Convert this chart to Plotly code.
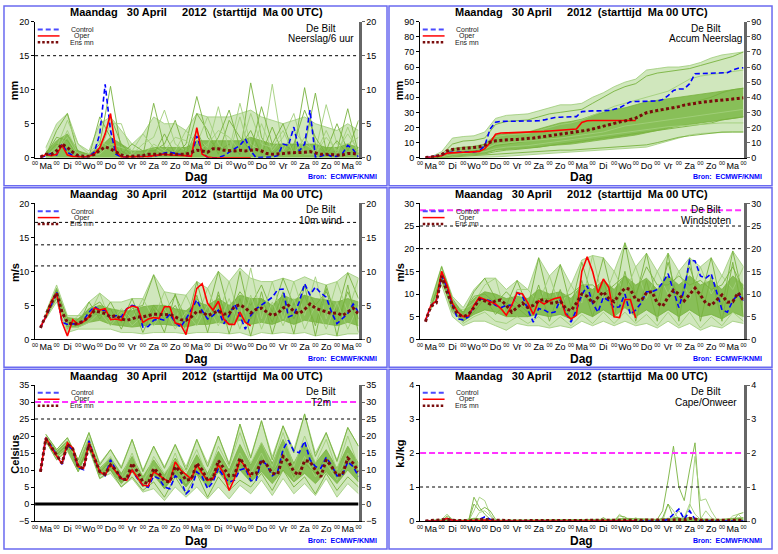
import plotly.graph_objects as go

W, H = 778, 554
FONT = 'Liberation Sans, Arial, Helvetica, sans-serif'

# time axis: hours after Ma 30 April 00 UTC
hours6 = list(range(6, 361, 6))
hours12 = list(range(12, 361, 12))
hours_oper = hours6[:40]

day_names = ['Ma', 'Di', 'Wo', 'Do', 'Vr', 'Za', 'Zo', 'Ma', 'Di', 'Wo', 'Do', 'Vr', 'Za', 'Zo', 'Ma']

# ---------------- Neerslag / 6 uur (mm) ----------------
precip_control = [0.0, 0.3, 0.6, 0.4, 2.0, 0.8, 0.3, 0.2, 0.1, 0.2, 0.8, 3.5,
                  10.8, 4.0, 0.5, 0.1, 0.1, 0.1, 0.1, 0.1, 0.1, 0.2, 0.4, 0.7,
                  0.8, 0.6, 0.4, 0.3, 0.2, 3.2, 0.8, 0.0, 0.0, 0.0, 0.3, 0.8,
                  1.2, 1.8, 2.8, 1.0, 0.0, 0.0, 0.0, 0.1, 0.3, 2.0, 1.8, 4.5,
                  1.0, 2.0, 7.0, 0.1, 0.2, 0.5, 0.2, 0.2, 0.6, 1.8, 1.2, 0.1]
precip_oper = [0.0, 0.5, 0.3, 0.5, 1.8, 0.4, 0.2, 0.1, 0.1, 0.2, 0.5, 1.5,
               3.5, 6.5, 1.0, 0.1, 0.1, 0.1, 0.1, 0.1, 0.2, 0.3, 0.4, 0.5,
               0.4, 0.4, 0.3, 0.3, 0.2, 4.4, 0.5, 0.1, 0.0, 0.0, 0.0, 0.0,
               0.0, 0.0, 0.0, 0.0]
precip_mean = [0.1, 0.5, 0.5, 1.0, 2.0, 1.5, 0.8, 0.3, 0.2, 0.2, 0.5, 1.0,
               1.6, 1.3, 0.8, 0.4, 0.2, 0.2, 0.2, 0.3, 0.5, 0.5, 0.4, 0.4,
               0.5, 0.5, 0.4, 0.5, 0.8, 1.1, 1.0, 0.8, 1.3, 1.3, 1.1, 1.0,
               1.0, 1.1, 1.0, 1.1, 1.2, 1.0, 0.6, 0.5, 0.5, 0.6, 0.7, 0.7,
               0.8, 0.8, 0.9, 0.7, 0.5, 0.5, 0.4, 0.4, 0.4, 0.6, 0.6, 0.5]
precip_env_hi = [1.5, 5.0, 6.5, 2.0, 1.0, 5.0, 6.0, 4.0, 2.0, 3.5, 6.0, 5.0, 5.0, 4.0, 6.5,
                 6.0, 6.0, 6.0, 6.5, 7.0, 6.0, 5.5, 5.0, 5.5, 6.0, 5.0, 4.5, 4.0, 5.0, 4.0]
precip_core_hi = [0.8, 2.5, 3.5, 1.0, 0.5, 1.5, 3.0, 2.0, 1.0, 1.0, 1.5, 1.5, 1.5, 1.5, 2.5,
                  2.5, 2.5, 2.5, 2.5, 3.0, 2.5, 2.0, 2.0, 2.0, 2.0, 2.0, 1.5, 1.5, 2.0, 1.5]
precip_members = [
    [0.3, 4.0, 6.5, 0.5, 0.2, 2.0, 10.5, 1.0, 0.1, 0.3, 8.0, 1.5, 0.5, 2.0, 9.0,
     3.0, 1.0, 2.0, 0.5, 11.0, 3.0, 0.5, 2.0, 1.0, 10.3, 2.0, 0.5, 1.0, 7.2, 0.5],
    [0.2, 1.5, 5.5, 2.0, 0.5, 0.8, 5.0, 5.0, 0.5, 2.0, 3.0, 7.0, 2.0, 1.0, 3.0,
     1.5, 7.5, 1.0, 8.0, 2.0, 1.0, 10.8, 1.0, 4.0, 2.0, 1.0, 7.8, 2.0, 2.0, 3.0],
    [0.5, 3.0, 2.5, 0.3, 0.1, 6.0, 3.0, 0.5, 2.0, 1.0, 1.0, 2.0, 5.5, 0.5, 6.5,
     4.0, 0.5, 5.5, 3.0, 1.0, 7.5, 2.0, 5.0, 0.5, 1.5, 9.5, 1.0, 5.0, 1.0, 5.5],
    [0.1, 0.8, 4.0, 0.5, 0.2, 0.5, 2.0, 1.5, 1.0, 3.5, 1.5, 0.5, 1.0, 4.0, 2.0,
     6.0, 2.0, 0.5, 6.0, 0.5, 5.0, 1.0, 3.0, 6.5, 0.5, 0.5, 3.0, 1.0, 3.5, 1.0],
    [0.4, 2.0, 1.0, 1.0, 0.3, 1.0, 6.0, 2.0, 0.2, 0.5, 0.5, 3.5, 0.5, 0.5, 4.0,
     0.5, 3.0, 7.0, 1.5, 4.0, 0.5, 4.5, 0.5, 2.0, 7.0, 3.0, 0.5, 2.5, 0.5, 1.5],
    [0.2, 1.0, 3.0, 0.2, 0.5, 2.5, 1.5, 0.3, 0.5, 0.2, 2.0, 1.0, 3.0, 2.5, 1.0,
     2.0, 4.0, 3.0, 1.0, 6.5, 2.0, 1.5, 4.0, 0.5, 3.0, 0.5, 4.0, 0.5, 4.5, 0.5],
]

# ---------------- Accum Neerslag (mm) ----------------
accum_control = [0.0, 0.3, 1.0, 1.5, 3.5, 3.6, 3.7, 3.7, 3.7, 3.8, 4.5, 8.0,
                 19.0, 23.5, 24.0, 24.0, 24.0, 24.0, 24.1, 24.1, 24.2, 24.4, 25.0, 25.8,
                 26.6, 26.8, 26.9, 27.0, 27.2, 30.5, 31.0, 31.0, 31.0, 31.0, 31.3, 32.0,
                 33.0, 35.0, 37.0, 37.2, 37.2, 37.2, 37.2, 37.5, 38.5, 41.0, 44.5, 45.5,
                 45.5, 49.0, 55.5, 55.7, 55.8, 55.9, 56.0, 56.0, 56.3, 58.0, 59.2, 59.5]
accum_oper = [0.0, 0.4, 0.8, 1.3, 3.0, 3.3, 3.5, 3.6, 3.7, 3.8, 4.2, 6.0,
              10.0, 15.5, 16.3, 16.4, 16.5, 16.5, 16.6, 16.7, 16.9, 17.1, 17.4, 17.7,
              18.0, 18.3, 18.5, 18.7, 19.0, 23.3, 24.5, 24.6, 24.6, 24.6, 24.6, 24.6,
              24.6, 24.6, 24.6, 24.6]
accum_mean = [0.1, 0.4, 0.9, 2.0, 4.5, 5.5, 6.0, 6.2, 6.4, 6.7, 7.2, 8.2,
              10.3, 11.2, 11.6, 11.8, 12.0, 12.1, 12.3, 12.5, 13.0, 13.5, 14.0, 14.5,
              15.0, 15.4, 15.8, 16.3, 16.9, 17.5, 18.2, 19.0, 20.0, 21.0, 22.0, 22.8,
              23.6, 24.3, 25.0, 26.2, 28.0, 29.8, 30.6, 31.2, 31.8, 32.4, 33.0, 33.8,
              34.8, 35.5, 36.0, 36.5, 37.0, 37.3, 37.7, 38.0, 38.4, 38.8, 39.2, 39.6]
accum_env_lo = [0, 0, 0, 0, 0.2, 0.3, 0.5, 1, 1.5, 2, 2.5, 3, 3, 3.5, 4,
                4.5, 5, 5.5, 6, 6.5, 7, 9, 11, 13, 15, 16, 16.5, 17, 17, 17]
accum_env_hi = [0.5, 4, 13, 14, 14.5, 17, 26, 28, 28.5, 29, 31, 33, 35, 35, 36,
                40, 43, 47, 50, 52, 58, 59, 60, 60, 61, 63, 66, 68, 69, 70]
accum_core_lo = [0, 0.3, 1.5, 2, 2.5, 3, 5, 5.5, 6, 6.5, 7, 8, 8.5, 9, 10,
                 11, 12, 13, 14, 15, 16.5, 18, 19, 21, 22, 23, 24, 25, 26, 27]
accum_core_hi = [0.2, 1.5, 6, 7, 7.5, 9, 15, 16, 16.5, 17, 19, 21, 23, 24, 25.5,
                 28, 30, 32, 33, 35, 37, 38, 39, 40, 41, 42, 43, 44, 45, 46]
accum_members = [
    [0.2, 2, 9, 11, 11.5, 13, 22, 24, 24.5, 25, 27, 29, 30, 31, 32,
     36, 40, 44, 47, 49, 54, 56, 57, 58, 59, 61, 63, 65, 67, 70],
    [0.1, 1, 5, 6, 6.5, 8, 14, 15, 15.5, 16, 18, 20, 22, 23, 25,
     28, 31, 34, 36, 38, 40, 42, 44, 48, 52, 54, 55, 56, 57, 58],
    [0, 0.5, 3, 4, 4.5, 5, 8, 9, 10, 11, 12, 13, 14, 15, 17,
     19, 21, 23, 25, 27, 29, 30, 32, 34, 36, 38, 40, 43, 45, 46],
    [0.1, 1, 4, 5, 5.5, 6, 9, 10, 10.5, 11, 12, 12.5, 13, 14, 15,
     16, 17, 19, 21, 22, 23, 24, 25, 26, 27, 28, 29, 30, 31, 32],
    [0, 0.3, 1, 1.5, 2, 2.5, 4, 5, 5.5, 6, 7, 8, 9, 10, 11,
     12, 13, 14, 15, 16, 17, 18, 19, 20, 21, 22, 23, 25, 26, 27],
    [0, 0.5, 2, 3, 3.5, 4, 6, 7, 7.5, 8, 9, 10, 11, 12, 13,
     14, 15, 16, 17, 18, 19, 20, 20.5, 21, 21.5, 22, 22.5, 23, 23, 23],
    [0, 0, 0.5, 1, 1, 1.5, 2, 2.5, 3, 3.5, 4, 4.5, 5, 5, 5.5,
     6, 6.5, 7, 7.5, 8, 8.5, 10, 12, 13.5, 14.5, 15.5, 16.5, 17, 17, 17],
]

# ---------------- 10m wind (m/s) ----------------
wind_control = [1.7, 3.3, 5.0, 7.0, 2.5, 2.2, 2.3, 2.2, 2.8, 4.0, 4.8, 4.3,
                4.3, 3.0, 3.5, 3.3, 4.5, 5.0, 4.8, 1.8, 1.9, 2.8, 3.0, 2.8,
                3.7, 2.5, 1.8, 3.0, 4.5, 5.8, 4.2, 3.0, 3.5, 4.3, 2.3, 3.5,
                5.2, 3.5, 1.5, 3.5, 4.5, 5.0, 5.6, 6.2, 7.3, 7.4, 3.3, 3.6,
                5.5, 8.2, 6.5, 7.7, 6.8, 6.2, 4.0, 2.3, 3.0, 3.8, 5.2, 4.0]
wind_oper = [1.8, 3.3, 5.5, 6.8, 2.5, 0.5, 2.9, 2.2, 2.6, 3.3, 4.6, 4.3,
             4.5, 2.9, 3.0, 2.8, 4.5, 4.9, 4.7, 2.5, 3.0, 3.2, 3.1, 4.8,
             4.8, 2.4, 2.2, 0.7, 4.0, 7.5, 8.2, 5.3, 4.3, 5.6, 3.0, 2.2,
             2.2, 4.0, 2.5, 2.0]
wind_mean = [1.7, 3.5, 5.3, 6.8, 4.0, 2.5, 2.2, 2.3, 2.7, 3.3, 4.2, 4.0,
             3.8, 3.3, 3.5, 3.0, 2.8, 3.0, 3.3, 3.3, 3.5, 3.7, 3.7, 3.6,
             3.7, 3.3, 2.9, 2.8, 3.3, 4.1, 4.0, 3.5, 3.8, 4.2, 3.7, 3.8,
             4.8, 5.1, 4.6, 3.9, 4.4, 4.6, 4.0, 3.5, 3.8, 4.6, 5.0, 4.1,
             3.8, 4.4, 5.2, 4.6, 4.3, 4.1, 3.8, 3.9, 3.5, 4.0, 4.6, 3.7]
wind_env_lo = [3.0, 5.5, 1.0, 1.5, 1.5, 1.5, 1.5, 1.0, 1.0, 0.8, 1.0, 1.0, 1.0, 0.8, 1.0,
               1.0, 1.0, 0.8, 1.0, 0.5, 1.0, 0.8, 1.0, 0.8, 1.0, 0.5, 0.8, 0.5, 0.8, 0.8]
wind_env_hi = [4.0, 8.0, 3.5, 3.5, 5.5, 6.8, 5.5, 5.5, 6.0, 6.0, 9.5, 7.0, 6.7, 6.5, 8.5,
               7.5, 10.0, 8.5, 10.5, 9.0, 8.5, 8.5, 9.0, 8.5, 9.2, 8.5, 8.0, 8.5, 9.8, 9.0]
wind_core_lo = [3.2, 6.0, 1.8, 1.8, 2.5, 2.8, 2.2, 2.0, 1.8, 2.0, 2.2, 2.2, 2.0, 1.8, 2.2,
                2.2, 2.5, 2.2, 2.8, 2.2, 2.5, 2.2, 2.8, 2.2, 2.8, 2.5, 2.2, 2.0, 2.5, 2.0]
wind_core_hi = [4.0, 7.3, 3.2, 3.0, 4.5, 5.0, 4.5, 4.2, 4.2, 4.8, 5.0, 5.0, 4.5, 4.2, 5.5,
                5.0, 6.0, 5.0, 6.5, 6.0, 6.0, 5.0, 6.5, 5.8, 6.5, 6.0, 5.8, 5.5, 6.0, 5.5]
wind_members = [
    [3.5, 7.5, 2.5, 2.5, 4.5, 5.5, 3.5, 3.0, 4.5, 5.0, 9.5, 4.0, 6.5, 3.0, 6.0,
     4.0, 10.0, 4.0, 7.0, 5.0, 8.0, 4.0, 9.0, 5.0, 8.0, 5.0, 7.0, 4.0, 9.8, 6.0],
    [3.3, 6.5, 2.0, 3.5, 3.5, 6.8, 2.5, 4.5, 3.0, 6.0, 3.0, 7.0, 3.0, 6.5, 3.0,
     7.5, 3.5, 8.5, 3.0, 10.5, 3.0, 8.5, 3.0, 8.5, 3.5, 9.2, 3.0, 8.5, 4.0, 9.0],
    [3.6, 7.0, 3.0, 2.0, 5.5, 3.0, 5.5, 2.5, 6.0, 2.0, 5.0, 3.0, 5.0, 2.0, 8.5,
     2.5, 6.5, 2.5, 10.0, 3.0, 6.0, 2.5, 7.0, 3.0, 6.5, 2.0, 8.0, 2.5, 7.0, 3.0],
    [3.4, 6.8, 2.8, 1.8, 2.5, 4.0, 2.0, 4.0, 2.0, 3.5, 2.0, 4.5, 1.5, 4.0, 2.0,
     5.0, 2.0, 6.0, 1.5, 6.5, 1.5, 5.5, 2.0, 6.0, 1.5, 5.0, 1.5, 5.5, 1.5, 5.0],
    [3.5, 7.2, 1.5, 3.0, 4.0, 3.5, 4.5, 1.5, 5.0, 1.0, 4.5, 1.0, 6.7, 1.0, 6.5,
     1.0, 7.0, 0.8, 6.0, 0.5, 7.0, 0.8, 6.0, 0.8, 8.0, 0.5, 7.5, 0.5, 8.0, 1.0],
]

# ---------------- Windstoten (m/s) ----------------
gust_control = [4.0, 7.5, 8.5, 14.0, 11.5, 7.5, 4.5, 4.3, 5.0, 7.5, 9.0, 8.8,
                8.5, 7.5, 7.0, 7.5, 7.5, 10.3, 9.5, 6.5, 3.8, 6.8, 6.5, 5.8,
                6.0, 8.7, 6.0, 3.8, 6.5, 9.8, 11.8, 8.0, 6.0, 9.3, 8.5, 7.0,
                7.2, 10.0, 5.5, 6.5, 8.0, 10.5, 10.5, 11.0, 12.5, 14.5, 11.0, 7.0,
                11.0, 17.5, 17.3, 14.0, 13.5, 14.5, 10.5, 6.5, 6.0, 8.5, 10.0, 8.5]
gust_oper = [4.2, 7.5, 8.5, 15.0, 12.0, 8.0, 6.0, 5.0, 5.2, 7.5, 9.3, 8.8,
             8.3, 7.8, 6.8, 5.3, 7.5, 10.3, 10.0, 8.0, 5.5, 8.5, 7.8, 8.5,
             9.0, 9.3, 5.5, 4.5, 5.3, 15.0, 18.2, 15.0, 10.3, 13.3, 11.5, 5.0,
             4.8, 8.8, 8.8, 4.7]
gust_mean = [3.9, 7.3, 8.0, 14.0, 10.5, 7.5, 5.5, 5.0, 5.5, 7.0, 8.8, 8.5,
             7.8, 8.5, 8.7, 7.5, 6.0, 7.0, 8.0, 7.0, 7.5, 8.5, 8.8, 8.0,
             8.0, 8.5, 6.8, 6.3, 8.0, 10.0, 9.5, 8.0, 9.3, 10.5, 9.0, 8.3,
             10.0, 11.3, 11.0, 8.8, 8.5, 10.3, 10.5, 8.0, 7.3, 9.3, 10.8, 10.0,
             8.5, 9.8, 11.3, 9.8, 8.0, 7.5, 8.7, 9.8, 8.2, 8.3, 10.3, 8.5]
gust_env_lo = [6.5, 12.0, 5.0, 3.0, 4.0, 4.0, 3.0, 2.0, 3.5, 3.0, 3.0, 2.5, 3.0, 2.5, 4.0,
               3.0, 4.0, 3.0, 4.0, 3.0, 3.5, 2.5, 4.0, 2.5, 3.5, 2.0, 3.0, 2.5, 4.0, 3.5]
gust_env_hi = [8.5, 16.2, 9.5, 7.0, 11.0, 13.5, 13.5, 11.0, 13.0, 11.0, 18.0, 14.0, 16.5, 12.0, 17.5,
               18.5, 18.0, 15.0, 21.3, 16.0, 19.0, 15.0, 19.0, 15.0, 18.0, 16.0, 18.0, 14.0, 19.5, 16.0]
gust_core_lo = [7.0, 13.0, 6.5, 4.0, 5.5, 6.5, 6.0, 5.0, 5.0, 5.0, 5.5, 5.0, 5.5, 4.5, 6.0,
                5.0, 6.5, 5.0, 7.0, 5.0, 6.5, 5.0, 6.5, 5.0, 6.5, 5.0, 5.5, 4.5, 6.0, 5.0]
gust_core_hi = [8.0, 15.0, 8.5, 6.0, 9.0, 10.5, 10.0, 9.0, 9.5, 9.0, 11.0, 10.0, 10.5, 9.0, 12.0,
                11.0, 13.0, 11.0, 14.0, 12.0, 13.5, 11.0, 14.0, 12.0, 14.0, 12.0, 13.0, 11.0, 14.0, 12.0]
gust_members = [
    [8.0, 16.0, 9.0, 5.5, 10.5, 13.5, 9.0, 7.5, 13.0, 7.0, 18.0, 8.0, 16.5, 7.0, 17.0,
     9.0, 18.0, 8.0, 21.3, 9.0, 19.0, 8.0, 17.0, 8.0, 16.0, 9.0, 18.0, 7.0, 19.5, 9.0],
    [7.5, 14.5, 7.0, 6.5, 8.0, 12.0, 13.5, 5.0, 11.0, 11.0, 8.0, 14.0, 7.0, 12.0, 8.0,
     18.5, 8.5, 15.0, 10.0, 16.0, 9.0, 15.0, 10.0, 15.0, 9.0, 16.0, 10.0, 14.0, 11.0, 16.0],
    [7.0, 13.5, 6.0, 4.0, 6.0, 9.0, 5.5, 8.0, 7.0, 5.0, 12.0, 4.0, 11.0, 4.0, 13.0,
     5.0, 13.0, 5.0, 15.0, 4.0, 13.0, 4.0, 19.0, 4.0, 18.0, 4.0, 14.0, 4.0, 17.0, 5.0],
    [7.8, 15.0, 8.0, 3.5, 5.0, 6.0, 4.0, 3.5, 5.0, 3.5, 5.0, 3.0, 5.0, 3.0, 5.5,
     3.5, 6.0, 3.5, 6.0, 3.5, 5.5, 3.0, 6.0, 3.0, 6.0, 2.5, 5.0, 3.0, 6.0, 4.0],
    [7.2, 14.0, 7.5, 6.0, 9.5, 10.0, 8.0, 10.5, 8.0, 6.0, 9.0, 9.0, 9.0, 10.0, 12.0,
     12.0, 10.0, 12.0, 14.0, 10.0, 16.0, 12.0, 12.0, 14.0, 12.0, 13.0, 11.0, 12.0, 16.0, 11.0],
]

# ---------------- T2m (Celsius) ----------------
t2m_control = [9.5, 19.5, 17.0, 14.5, 11.7, 17.3, 16.0, 10.7, 10.1, 18.6, 13.5, 9.5,
               8.3, 13.0, 10.0, 7.5, 6.9, 10.0, 7.5, 5.5, 4.9, 8.2, 7.5, 5.0,
               4.5, 8.3, 7.0, 3.0, 4.5, 9.5, 8.0, 4.5, 6.5, 10.5, 8.0, 6.4,
               7.0, 10.0, 10.5, 6.9, 7.0, 12.9, 11.5, 8.3, 9.5, 16.1, 18.7, 15.6,
               15.1, 18.5, 13.0, 11.0, 10.5, 13.7, 11.5, 8.3, 8.5, 12.4, 11.0, 8.1]
t2m_oper = [9.5, 19.5, 16.5, 14.0, 11.8, 18.0, 16.5, 11.0, 10.5, 18.0, 13.5, 9.5,
            8.5, 11.7, 9.5, 7.5, 7.0, 10.0, 7.8, 5.5, 5.3, 9.5, 8.5, 7.3,
            6.5, 12.4, 10.0, 8.5, 7.3, 11.7, 9.0, 7.0, 7.5, 11.5, 9.0, 4.0,
            7.5, 13.0, 11.0, 8.0]
t2m_mean = [9.5, 19.2, 16.8, 14.5, 12.0, 17.5, 16.2, 11.0, 10.5, 17.5, 13.5, 9.5,
            8.8, 11.5, 10.0, 7.3, 7.2, 12.0, 9.5, 6.5, 6.0, 10.5, 9.0, 6.8,
            6.5, 11.0, 9.5, 7.0, 7.3, 12.0, 10.0, 7.0, 7.5, 12.8, 10.5, 8.3,
            8.5, 13.5, 11.0, 9.0, 8.8, 13.0, 11.5, 9.0, 8.8, 14.0, 12.5, 9.5,
            8.5, 12.8, 12.5, 10.0, 8.0, 13.0, 11.0, 8.5, 8.5, 13.5, 12.0, 9.5]
t2m_env_lo = [18.5, 13, 15.5, 9.5, 16, 7.5, 9, 5, 7.5, 3.5, 4.5, 1.0, 5.0, 2.0, 5.0,
              1.5, 5.0, 1.5, 5.5, 3.0, 7.0, 2.5, 7.5, 3.0, 6.0, 2.5, 7.5, 2.0, 6.0, 3.0]
t2m_env_hi = [20.5, 16, 19.5, 13, 21, 12, 16, 11, 19, 10, 17, 11, 17.5, 11, 19,
              12, 20, 12, 23.5, 14, 24.5, 14, 23, 16, 26.5, 15, 21, 13, 22.5, 17]
t2m_core_lo = [18.8, 13.8, 16.5, 10.2, 16.5, 8.5, 10.0, 6.0, 9.5, 5.0, 8.5, 4.5, 8.5, 5.0, 9.0,
               5.0, 9.5, 5.5, 10.0, 6.5, 9.5, 6.0, 10.0, 6.5, 9.0, 6.0, 9.5, 6.0, 10.0, 6.5]
t2m_core_hi = [19.8, 15.5, 18.5, 12.0, 19.0, 10.5, 13.5, 9.0, 14.0, 8.0, 13.0, 8.5, 13.5, 8.5, 14.5,
               9.0, 15.5, 10.0, 17.5, 11.5, 18.0, 12.0, 19.0, 12.0, 18.0, 12.0, 16.0, 10.5, 17.0, 12.0]
t2m_members = [
    [20.5, 16.0, 19.5, 13.0, 21.0, 11.5, 16.0, 10.5, 19.0, 9.5, 17.0, 10.5, 17.5, 10.0, 19.0,
     11.0, 20.0, 11.5, 23.5, 13.5, 24.5, 13.0, 23.0, 15.0, 26.5, 14.0, 21.0, 12.5, 22.5, 17.0],
    [19.0, 14.0, 17.0, 11.0, 18.0, 9.0, 12.0, 8.0, 15.0, 6.0, 14.0, 9.0, 13.0, 9.5, 16.0,
     8.0, 17.0, 11.0, 21.0, 12.0, 18.0, 11.0, 21.0, 11.0, 20.0, 12.0, 19.0, 10.0, 20.0, 11.0],
    [18.5, 13.0, 16.0, 9.5, 17.0, 7.5, 10.0, 5.0, 8.0, 4.0, 6.5, 2.0, 8.0, 3.0, 9.0,
     2.0, 8.0, 4.0, 7.0, 5.0, 9.0, 4.0, 10.0, 5.0, 8.0, 3.0, 9.0, 4.0, 8.0, 5.0],
    [19.5, 15.0, 18.0, 12.0, 19.5, 10.0, 14.0, 7.0, 11.0, 7.0, 11.0, 7.0, 15.0, 6.0, 12.0,
     7.0, 13.0, 8.0, 15.0, 9.0, 15.0, 8.0, 17.0, 7.0, 14.0, 8.0, 12.0, 7.0, 15.0, 10.0],
    [19.0, 14.5, 17.5, 10.5, 16.5, 9.0, 13.0, 6.5, 10.0, 5.5, 9.5, 4.5, 10.0, 5.5, 11.0,
     6.5, 12.0, 7.0, 12.0, 7.5, 13.0, 9.0, 14.0, 8.0, 12.0, 9.0, 14.0, 8.0, 13.0, 9.0],
]

# ---------------- Cape/Onweer (kJ/kg) ----------------
cape_control = [0, 0, 0, 0, 0.07, 0.02, 0, 0, 0, 0, 0.05, 0.12,
                0.05, 0, 0, 0, 0, 0, 0, 0, 0, 0, 0, 0,
                0, 0, 0, 0, 0, 0, 0, 0, 0, 0, 0, 0,
                0, 0, 0, 0, 0, 0, 0, 0, 0, 0.05, 0.2, 0.35,
                0.05, 0.3, 0.05, 0, 0, 0, 0, 0, 0, 0, 0, 0]
cape_oper = [0, 0, 0, 0, 0.08, 0.02, 0, 0, 0, 0, 0.01, 0.03,
             0.01, 0, 0, 0, 0, 0, 0, 0, 0, 0, 0, 0,
             0, 0, 0, 0, 0, 0, 0, 0, 0, 0, 0, 0,
             0, 0, 0, 0]
cape_mean = [0, 0.01, 0.02, 0.03, 0.05, 0.02, 0.01, 0.01, 0.01, 0.02, 0.03, 0.05,
             0.03, 0.02, 0.01, 0.01, 0.01, 0.01, 0.01, 0.01, 0.01, 0.01, 0.01, 0.01,
             0.01, 0.01, 0.01, 0.01, 0.01, 0.01, 0.01, 0.01, 0.01, 0.01, 0.01, 0.01,
             0.01, 0.01, 0.01, 0.01, 0.01, 0.01, 0.01, 0.01, 0.01, 0.02, 0.03, 0.04,
             0.03, 0.08, 0.05, 0.03, 0.02, 0.02, 0.01, 0.01, 0.01, 0.01, 0.02, 0.02]
cape_core_hi = [0.02, 0.05, 0.03, 0.03, 0.08, 0.05, 0.03, 0.03, 0.03, 0.03, 0.03, 0.03, 0.03, 0.03, 0.04,
                0.04, 0.05, 0.05, 0.08, 0.06, 0.06, 0.05, 0.08, 0.08, 0.1, 0.06, 0.05, 0.05, 0.08, 0.1]
cape_members = [
    [0, 0, 0, 0, 0.15, 0.05, 0, 0, 0, 0.7, 0.4, 0.2,
     0.05, 0, 0, 0, 0, 0, 0, 0, 0, 0, 0, 0,
     0, 0, 0, 0, 0, 0, 0, 0, 0, 0, 0, 0,
     0, 0, 0, 0, 0, 0, 0, 0.05, 0.3, 1.2, 2.2, 1.0,
     0.6, 1.5, 2.3, 0.1, 0, 0, 0, 0, 0, 0, 0, 0],
    [0, 0, 0, 0.05, 0.2, 0.05, 0, 0, 0, 0.3, 0.7, 0.6,
     0.2, 0, 0, 0, 0, 0, 0, 0, 0, 0, 0, 0,
     0, 0, 0, 0, 0, 0, 0, 0, 0, 0, 0, 0,
     0.2, 0.05, 0, 0, 0, 0, 0, 0, 0, 0.5, 0.3, 0.05,
     0.1, 0.4, 1.9, 0.6, 0.65, 0.3, 0.05, 0, 0, 0, 0, 0],
    [0, 0, 0, 0, 0, 0, 0, 0, 0, 0.5, 0.3, 0.4,
     0.3, 0.05, 0, 0, 0, 0, 0, 0, 0, 0, 0, 0,
     0, 0, 0, 0, 0, 0, 0, 0, 0, 0.1, 0, 0,
     0.15, 0.12, 0, 0, 0, 0, 0, 0, 0.1, 0.5, 0.1, 0.1,
     0, 0, 0, 0, 0, 0, 0, 0, 0, 0, 0.2, 0.25],
    [0, 0, 0, 0, 0.1, 0, 0, 0, 0, 0, 0.25, 0.3,
     0.15, 0, 0, 0, 0, 0, 0, 0, 0, 0, 0, 0,
     0, 0, 0, 0, 0, 0.05, 0, 0, 0, 0, 0, 0,
     0, 0, 0, 0.1, 0, 0, 0, 0, 0, 0.05, 0.1, 0.3,
     0.1, 0.5, 0.2, 0.05, 0.3, 0.1, 0, 0, 0, 0.15, 0.2, 0.05],
]

panels = [
    dict(col=0, row=0, ylabel='mm', station='Neerslag/6 uur', yr=[0, 20], dy=5,
         control=precip_control, oper=precip_oper, mean=precip_mean, members=precip_members,
         members_x=hours12, env=(None, precip_env_hi), core=(None, precip_core_hi),
         dotted=[15], magenta=[], zero=False),
    dict(col=1, row=0, ylabel='mm', station='Accum Neerslag', yr=[0, 90], dy=10,
         control=accum_control, oper=accum_oper, mean=accum_mean, members=accum_members,
         members_x=hours12, env=(accum_env_lo, accum_env_hi), core=(accum_core_lo, accum_core_hi),
         dotted=[], magenta=[], zero=False),
    dict(col=0, row=1, ylabel='m/s', station='10m wind', yr=[0, 20], dy=5,
         control=wind_control, oper=wind_oper, mean=wind_mean, members=wind_members,
         members_x=hours12, env=(wind_env_lo, wind_env_hi), core=(wind_core_lo, wind_core_hi),
         dotted=[10.8, 13.9, 17.2], magenta=[], zero=False),
    dict(col=1, row=1, ylabel='m/s', station='Windstoten', yr=[0, 30], dy=5,
         control=gust_control, oper=gust_oper, mean=gust_mean, members=gust_members,
         members_x=hours12, env=(gust_env_lo, gust_env_hi), core=(gust_core_lo, gust_core_hi),
         dotted=[20, 25], magenta=[28.5], zero=False),
    dict(col=0, row=2, ylabel='Celsius', station='T2m', yr=[-5, 35], dy=5,
         control=t2m_control, oper=t2m_oper, mean=t2m_mean, members=t2m_members,
         members_x=hours12, env=(t2m_env_lo, t2m_env_hi), core=(t2m_core_lo, t2m_core_hi),
         dotted=[25], magenta=[30], zero=True),
    dict(col=1, row=2, ylabel='kJ/kg', station='Cape/Onweer', yr=[0, 4], dy=1,
         control=cape_control, oper=cape_oper, mean=cape_mean, members=cape_members,
         members_x=hours6, env=None, core=(None, cape_core_hi),
         dotted=[1], magenta=[2], zero=False),
]


def px(x):
    return x / W


def py(y):
    return 1 - y / H


midnight_vals = list(range(0, 361, 24))
midnight_text = ['00' for v in midnight_vals]
noon_vals = list(range(12, 360, 24))

ENV_FILL = 'rgba(150,202,108,0.45)'
CORE_FILL = 'rgba(128,186,76,0.9)'
MEMBER_COLORS = ['#78b23e', '#a2cf7a']


def band(fig, x, lo, hi, xref, yref, fillcolor, edge):
    # shaded spread between two edges (or down to zero when lo is None)
    if lo is None:
        fig.add_trace(go.Scatter(x=x, y=hi, xaxis=xref, yaxis=yref, mode='lines',
                                 line=dict(width=0.8, color=edge), fill='tozeroy',
                                 fillcolor=fillcolor, hoverinfo='skip'))
    else:
        fig.add_trace(go.Scatter(x=x, y=lo, xaxis=xref, yaxis=yref, mode='lines',
                                 line=dict(width=0.8, color=edge), hoverinfo='skip'))
        fig.add_trace(go.Scatter(x=x, y=hi, xaxis=xref, yaxis=yref, mode='lines',
                                 line=dict(width=0.8, color=edge), fill='tonexty',
                                 fillcolor=fillcolor, hoverinfo='skip'))


fig = go.Figure()
layout = dict(width=W, height=H, margin=dict(l=0, r=0, t=0, b=0),
              paper_bgcolor='white', plot_bgcolor='white', showlegend=False)
shapes = []
annotations = []
title_txt = ('<b>Maandag\u00a0\u00a0 30 April\u00a0\u00a0\u00a0\u00a0 2012\u00a0 '
             '(starttijd\u00a0 Ma 00 UTC)</b>')

for k, p in enumerate(panels, start=1):
    x0 = p['col'] * 388
    y0 = p['row'] * 185
    xs = '' if k == 1 else str(k)
    xref, yref = 'x' + xs, 'y' + xs
    yref_r = 'y' + str(k + 6)
    xref_d = 'x' + str(k + 6)

    xdom = [px(x0 + 32.3), px(x0 + 358.3)]
    ydom = [py(y0 + 155.5), py(y0 + 17.0)]
    yt = list(range(p['yr'][0], p['yr'][1] + 1, p['dy']))
    tickfont = dict(family=FONT, size=9, color='black')

    # bottom axis with the small "00" (midnight) labels
    layout['xaxis' + xs] = dict(domain=xdom, anchor=yref, range=[0, 360], tickvals=midnight_vals,
                                ticktext=midnight_text, tickangle=0, ticks='', showline=True,
                                linecolor='black', linewidth=1, showgrid=False, zeroline=False,
                                tickfont=dict(family=FONT, size=5.5, color='black'),
                                ticklabelstandoff=0, fixedrange=True)
    # overlay axis carrying the day names at noon
    layout['xaxis' + str(k + 6)] = dict(overlaying=xref, anchor=yref, side='bottom', range=[0, 360],
                                        tickvals=noon_vals, ticktext=day_names, tickangle=0,
                                        ticks='', showline=False, showgrid=False, zeroline=False,
                                        tickfont=tickfont, ticklabelstandoff=1, fixedrange=True)
    layout['yaxis' + xs] = dict(domain=ydom, anchor=xref, range=p['yr'], tickvals=yt,
                                showline=True, linecolor='black', linewidth=1, ticks='outside',
                                ticklen=3, tickcolor='black', showgrid=False, zeroline=False,
                                tickfont=tickfont, fixedrange=True)
    layout['yaxis' + str(k + 6)] = dict(overlaying=yref, anchor=xref, side='right', range=p['yr'],
                                        tickvals=yt, showline=True, linecolor='#666666', linewidth=3,
                                        ticks='outside', ticklen=3, tickcolor='#666666',
                                        showgrid=False, zeroline=False, tickfont=tickfont,
                                        fixedrange=True)

    mx = p['members_x']
    # ensemble spread
    if p['env'] is not None:
        band(fig, hours12, p['env'][0], p['env'][1], xref, yref, ENV_FILL, '#9ccb76')
    band(fig, hours12, p['core'][0], p['core'][1], xref, yref, CORE_FILL, '#7ab440')
    for j, m in enumerate(p['members']):
        fig.add_trace(go.Scatter(x=mx, y=m, xaxis=xref, yaxis=yref, mode='lines',
                                 line=dict(width=0.9, color=MEMBER_COLORS[j % 2]),
                                 hoverinfo='skip'))

    fig.add_trace(go.Scatter(x=hours6, y=p['control'], xaxis=xref, yaxis=yref, mode='lines',
                             name='Control', line=dict(color='#0000ff', width=1.6, dash='5px,3px')))
    fig.add_trace(go.Scatter(x=hours_oper, y=p['oper'], xaxis=xref, yaxis=yref, mode='lines',
                             name='Oper', line=dict(color='#ff0000', width=1.6)))
    fig.add_trace(go.Scatter(x=hours6, y=p['mean'], xaxis=xref, yaxis=yref, mode='lines',
                             name='Ens mn', line=dict(color='#7a0c0c', width=3, dash='3px,2.5px')))
    # empty traces so the overlay axes are drawn
    fig.add_trace(go.Scatter(x=[None], y=[None], xaxis=xref, yaxis=yref_r, mode='lines',
                             hoverinfo='skip'))
    fig.add_trace(go.Scatter(x=[None], y=[None], xaxis=xref_d, yaxis=yref, mode='lines',
                             hoverinfo='skip'))

    # reference levels
    for lev in p['dotted']:
        shapes.append(dict(type='line', xref=xref, yref=yref, x0=0, x1=360, y0=lev, y1=lev,
                           line=dict(color='black', width=1, dash='dot'), layer='above'))
    for lev in p['magenta']:
        shapes.append(dict(type='line', xref=xref, yref=yref, x0=0, x1=360, y0=lev, y1=lev,
                           line=dict(color='#ff33ff', width=2, dash='6px,3px'), layer='above'))
    if p['zero']:
        shapes.append(dict(type='line', xref=xref, yref=yref, x0=0, x1=360, y0=0, y1=0,
                           line=dict(color='black', width=3), layer='above'))

    # panel frame
    shapes.append(dict(type='rect', xref='paper', yref='paper', x0=px(x0 + 1), x1=px(x0 + 387),
                       y0=py(y0 + 184), y1=py(y0 + 1), line=dict(color='#6a6af0', width=1.5)))

    # legend
    leg = [('Control', dict(color='#4a4aff', width=2, dash='5px,3px'), 25.0),
           ('Oper', dict(color='#ff0000', width=1.5), 31.5),
           ('Ens mn', dict(color='#7a0c0c', width=2.5, dash='2.5px,2px'), 38.0)]
    for txt, ln, ly in leg:
        shapes.append(dict(type='line', xref='paper', yref='paper', x0=px(x0 + 35), x1=px(x0 + 57),
                           y0=py(y0 + ly), y1=py(y0 + ly), line=ln))
        annotations.append(dict(x=px(x0 + 80), y=py(y0 + ly), xref='paper', yref='paper',
                                text=txt, showarrow=False, xanchor='center', yanchor='middle',
                                font=dict(family=FONT, size=7, color='#202020')))

    annotations += [
        dict(x=px(x0 + 195), y=py(y0 + 7.5), text=title_txt,
             font=dict(family=FONT, size=11, color='black')),
        dict(x=px(x0 + 320), y=py(y0 + 23.5), text='De Bilt',
             font=dict(family=FONT, size=10, color='black')),
        dict(x=px(x0 + 320), y=py(y0 + 34.5), text=p['station'],
             font=dict(family=FONT, size=10, color='black')),
        dict(x=px(x0 + 195), y=py(y0 + 175.5), text='<b>Dag</b>',
             font=dict(family=FONT, size=12, color='black')),
        dict(x=px(x0 + 12), y=py(y0 + 87), text='<b>' + p['ylabel'] + '</b>', textangle=-90,
             font=dict(family=FONT, size=11, color='black')),
        dict(x=px(x0 + 342), y=py(y0 + 175), text='<b>Bron:\u00a0 ECMWF/KNMI</b>',
             font=dict(family=FONT, size=7, color='#0000ff')),
    ]

for a in annotations:
    a.setdefault('xref', 'paper')
    a.setdefault('yref', 'paper')
    a.setdefault('showarrow', False)
    a.setdefault('xanchor', 'center')
    a.setdefault('yanchor', 'middle')

layout['shapes'] = shapes
layout['annotations'] = annotations
fig.update_layout(**layout)

fig.write_html("out.html", config={'displayModeBar': False},
               post_script="document.body.style.margin='0px';")
